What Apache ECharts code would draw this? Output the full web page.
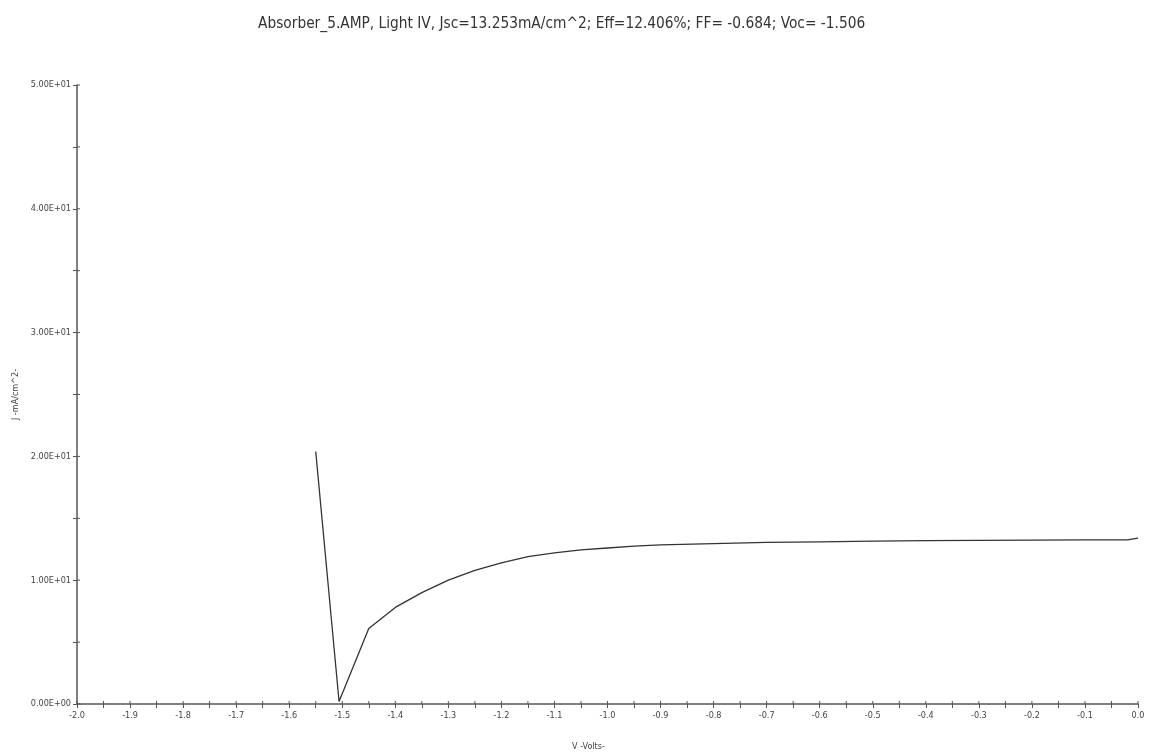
<!DOCTYPE html>
<html>
<head>
<meta charset="utf-8">
<script src="https://cdn.jsdelivr.net/npm/echarts@6/dist/echarts.min.js"></script>
<style>
  html, body { margin: 0; padding: 0; background: #fff; }
  #chart { width: 1155px; height: 756px; }
</style>
</head>
<body>
<div id="chart"></div>
<script>
// Light I-V sweep of Absorber_5.AMP: voltage (V) and current density (mA/cm^2)
const voltage = [-1.55, -1.506, -1.45, -1.40, -1.35, -1.30, -1.25, -1.20, -1.15, -1.10,
                 -1.05, -1.00, -0.95, -0.90, -0.80, -0.70, -0.60, -0.50, -0.40, -0.30,
                 -0.20, -0.10, -0.02, 0.00];
const currentDensity = [20.4, 0.2, 6.1, 7.8, 9.0, 10.0, 10.8, 11.4, 11.9, 12.2,
                        12.45, 12.6, 12.75, 12.85, 12.95, 13.05, 13.1, 13.15, 13.2, 13.22,
                        13.24, 13.25, 13.25, 13.4];

const chartTitle = 'Absorber_5.AMP, Light IV, Jsc=13.253mA/cm^2; Eff=12.406%; FF= -0.684; Voc= -1.506';
const xAxisTitle = 'V -Volts-';
const yAxisTitle = 'J -mA/cm^2-';

// axis ranges
const X_MIN = -2, X_MAX = 0, X_STEP = 0.1;
const Y_MIN = 0, Y_MAX = 50, Y_STEP = 10;

const FONT = '"DejaVu Sans Condensed", "Liberation Sans Narrow", "Liberation Sans", sans-serif';
const AXIS_COLOR = '#555';

// Scientific label in the instrument's style, e.g. 5.00E+01
function sciLabel(v) {
  if (v === 0) return '0.00E+00';
  const exp = Math.floor(Math.log10(Math.abs(v)));
  const mant = v / Math.pow(10, exp);
  const sign = exp < 0 ? '-' : '+';
  const e = String(Math.abs(exp)).padStart(2, '0');
  return mant.toFixed(2) + 'E' + sign + e;
}

// major + minor tick values (every half step) along a range
function halfSteps(min, max, step) {
  const out = [];
  const n = Math.round((max - min) / (step / 2));
  for (let i = 0; i <= n; i++) out.push(+(min + i * step / 2).toFixed(6));
  return out;
}

const points = voltage.map((v, i) => [v, currentDensity[i]]);
const xTickData = halfSteps(X_MIN, X_MAX, X_STEP).map(v => [v, Y_MIN]);
const yTickData = halfSteps(Y_MIN, Y_MAX, Y_STEP).map(v => [X_MIN, v]);

const chart = echarts.init(document.getElementById('chart'), null, { renderer: 'canvas' });

// inner half of each tick, so ticks cross the axis lines
function innerTick(dir) {
  return function (params, api) {
    const p = api.coord([api.value(0), api.value(1)]);
    const len = 3;
    const end = dir === 'x' ? [p[0], p[1] - len] : [p[0] + len, p[1]];
    return {
      type: 'line',
      shape: { x1: p[0], y1: p[1], x2: end[0], y2: end[1] },
      style: { stroke: AXIS_COLOR, lineWidth: 1 },
      silent: true
    };
  };
}

chart.setOption({
  animation: false,
  backgroundColor: '#fff',
  title: {
    text: chartTitle,
    left: 253,
    top: 12,
    textStyle: { fontFamily: FONT, fontSize: 15.3, fontWeight: 'normal', color: '#333' }
  },
  grid: { left: 77, right: 17, top: 85, bottom: 51, containLabel: false },
  xAxis: {
    type: 'value', min: X_MIN, max: X_MAX, interval: X_STEP,
    name: xAxisTitle,
    nameLocation: 'middle',
    nameGap: 38,
    nameTextStyle: { fontFamily: FONT, fontSize: 9, color: '#444', padding: [0, 38, 0, 0] },
    axisLine: { onZero: false, lineStyle: { color: AXIS_COLOR, width: 1.5 } },
    axisTick: { show: true, inside: false, length: 4, lineStyle: { color: AXIS_COLOR } },
    minorTick: { show: true, splitNumber: 2, length: 4, lineStyle: { color: AXIS_COLOR } },
    axisLabel: {
      fontFamily: FONT, fontSize: 9, color: '#444', margin: 7,
      formatter: v => v.toFixed(1)
    },
    splitLine: { show: false }
  },
  yAxis: {
    type: 'value', min: Y_MIN, max: Y_MAX, interval: Y_STEP,
    name: yAxisTitle,
    nameLocation: 'middle',
    nameGap: 55,
    nameRotate: 90,
    nameTextStyle: { fontFamily: FONT, fontSize: 9, color: '#444' },
    axisLine: { onZero: false, lineStyle: { color: AXIS_COLOR, width: 1.5 } },
    axisTick: { show: true, inside: false, length: 4, lineStyle: { color: AXIS_COLOR } },
    minorTick: { show: true, splitNumber: 2, length: 4, lineStyle: { color: AXIS_COLOR } },
    axisLabel: { fontFamily: FONT, fontSize: 9, color: '#444', margin: 6, formatter: sciLabel },
    splitLine: { show: false }
  },
  series: [
    {
      type: 'line',
      data: points,
      showSymbol: false,
      smooth: false,
      lineStyle: { color: '#333', width: 1.3 },
      z: 3
    },
    {
      type: 'custom',
      data: xTickData,
      renderItem: innerTick('x'),
      clip: false,
      silent: true,
      z: 4
    },
    {
      type: 'custom',
      data: yTickData,
      renderItem: innerTick('y'),
      clip: false,
      silent: true,
      z: 4
    }
  ]
});
</script>
</body>
</html>
